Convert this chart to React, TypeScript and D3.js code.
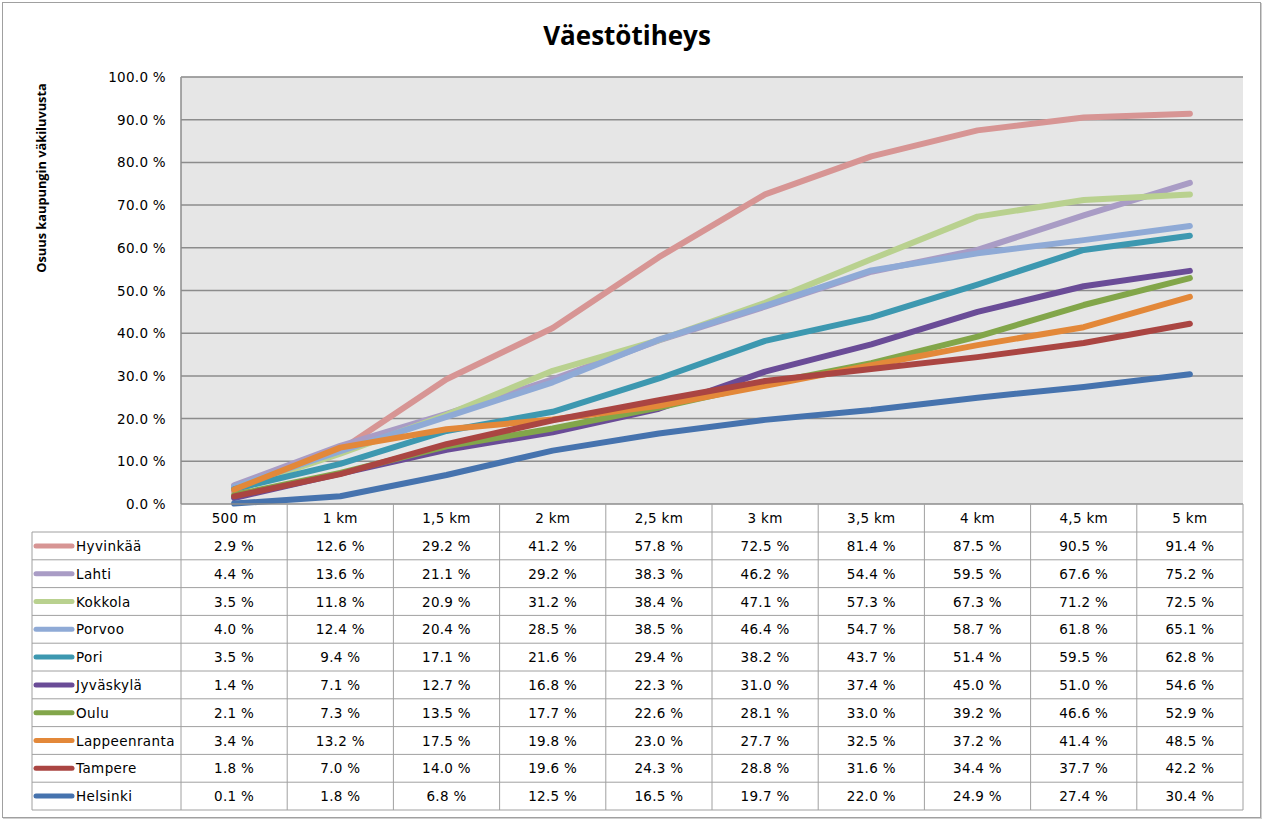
import React, { useEffect } from "react";
import * as d3 from "d3";

const categories = ["500 m", "1 km", "1,5 km", "2 km", "2,5 km", "3 km", "3,5 km", "4 km", "4,5 km", "5 km"];
const cities = ["Hyvinkää", "Lahti", "Kokkola", "Porvoo", "Pori", "Jyväskylä", "Oulu", "Lappeenranta", "Tampere", "Helsinki"];
const colors = ["#D79594", "#A99CC5", "#B9D18F", "#8FAAD6", "#3D98B0", "#6A4C97", "#82A64A", "#E38839", "#AA4542", "#4673AE"];
const hyvinkaa = [2.9, 12.6, 29.2, 41.2, 57.8, 72.5, 81.4, 87.5, 90.5, 91.4];
const lahti = [4.4, 13.6, 21.1, 29.2, 38.3, 46.2, 54.4, 59.5, 67.6, 75.2];
const kokkola = [3.5, 11.8, 20.9, 31.2, 38.4, 47.1, 57.3, 67.3, 71.2, 72.5];
const porvoo = [4.0, 12.4, 20.4, 28.5, 38.5, 46.4, 54.7, 58.7, 61.8, 65.1];
const pori = [3.5, 9.4, 17.1, 21.6, 29.4, 38.2, 43.7, 51.4, 59.5, 62.8];
const jyvaskyla = [1.4, 7.1, 12.7, 16.8, 22.3, 31.0, 37.4, 45.0, 51.0, 54.6];
const oulu = [2.1, 7.3, 13.5, 17.7, 22.6, 28.1, 33.0, 39.2, 46.6, 52.9];
const lappeenranta = [3.4, 13.2, 17.5, 19.8, 23.0, 27.7, 32.5, 37.2, 41.4, 48.5];
const tampere = [1.8, 7.0, 14.0, 19.6, 24.3, 28.8, 31.6, 34.4, 37.7, 42.2];
const helsinki = [0.1, 1.8, 6.8, 12.5, 16.5, 19.7, 22.0, 24.9, 27.4, 30.4];
const seriesValues = [hyvinkaa, lahti, kokkola, porvoo, pori, jyvaskyla, oulu, lappeenranta, tampere, helsinki];
const yTicks = [0, 10, 20, 30, 40, 50, 60, 70, 80, 90, 100];

const W = 1264, H = 822;
const plotL = 181, plotR = 1243, plotT = 77, plotB = 504;
const legL = 32;
const headerH = 28;
const rowH = 27.8;
const FONT = "'DejaVu Sans', Verdana, sans-serif";
const FS = 13.5;

export default function App() {
  useEffect(() => {
    document.body.style.margin = "0";
  }, []);

  const x = d3.scaleBand<string>().domain(categories).range([plotL, plotR]);
  const y = d3.scaleLinear().domain([0, 100]).range([plotB, plotT]);
  const line = d3
    .line<number>()
    .x((_, i) => (x(categories[i]) as number) + x.bandwidth() / 2)
    .y((v) => y(v));

  const tableBottom = plotB + headerH + rowH * cities.length;
  const fmt = (v: number) => v.toFixed(1) + " %";

  return (
    <svg width={W} height={H} style={{ position: "absolute", left: 0, top: 0, display: "block" }}>
      <rect x={0} y={0} width={W} height={H} fill="#fff" />
      <rect x={3.5} y={3.5} width={1258} height={815} fill="none" stroke="#d0d0d0" strokeWidth={1} />
      <rect x={2.5} y={2.5} width={1258} height={815} fill="#fff" stroke="#a0a0a0" strokeWidth={1} />

      <text x={627} y={45} textAnchor="middle" fontFamily="'Open Sans', 'DejaVu Sans', sans-serif" fontWeight="bold" fontSize={26} fill="#000">
        Väestötiheys
      </text>

      <text
        transform={`translate(46,178) rotate(-90)`}
        textAnchor="middle"
        fontFamily="'Open Sans', 'DejaVu Sans', sans-serif"
        fontWeight="bold"
        fontSize={12.8}
        fill="#000"
      >
        Osuus kaupungin väkiluvusta
      </text>

      <rect x={plotL} y={plotT} width={plotR - plotL} height={plotB - plotT} fill="#E6E6E6" />
      {yTicks.map((t) => (
        <g key={t}>
          {t > 0 && (
            <line x1={plotL} x2={plotR} y1={y(t)} y2={y(t)} stroke="#8C8C8C" strokeWidth={1.5} />
          )}
          <text x={166} y={y(t) + 5} textAnchor="end" fontFamily={FONT} fontSize={FS} letterSpacing={0.3} fill="#000">
            {t.toFixed(1) + " %"}
          </text>
        </g>
      ))}
      <line x1={plotL} x2={plotL} y1={plotT} y2={plotB} stroke="#8C8C8C" strokeWidth={1.5} />
      <line x1={plotL} x2={plotR} y1={plotT} y2={plotT} stroke="#a0a0a0" strokeWidth={1} />

      {seriesValues.map((vals, i) => (
        <path
          key={cities[i]}
          d={line(vals) || ""}
          fill="none"
          stroke={colors[i]}
          strokeWidth={6}
          strokeLinecap="round"
          strokeLinejoin="round"
        />
      ))}

      <g>
        <line x1={plotL} x2={plotR} y1={plotB} y2={plotB} stroke="#8C8C8C" strokeWidth={1.5} />
        <line x1={legL} x2={plotR} y1={plotB + headerH} y2={plotB + headerH} stroke="#a0a0a0" strokeWidth={1} />
        {cities.map((_, i) => (
          <line
            key={"h" + i}
            x1={legL}
            x2={plotR}
            y1={plotB + headerH + rowH * (i + 1)}
            y2={plotB + headerH + rowH * (i + 1)}
            stroke="#a0a0a0"
            strokeWidth={1}
          />
        ))}
        <line x1={legL} x2={legL} y1={plotB + headerH} y2={tableBottom} stroke="#a0a0a0" strokeWidth={1} />
        {categories.map((c) => (
          <line
            key={"v" + c}
            x1={x(c) as number}
            x2={x(c) as number}
            y1={plotB}
            y2={tableBottom}
            stroke="#a0a0a0"
            strokeWidth={1}
          />
        ))}
        <line x1={plotR} x2={plotR} y1={plotB} y2={tableBottom} stroke="#a0a0a0" strokeWidth={1} />

        {categories.map((c) => (
          <text
            key={"c" + c}
            x={(x(c) as number) + x.bandwidth() / 2}
            y={plotB + headerH / 2 + 5}
            textAnchor="middle"
            fontFamily={FONT}
            fontSize={FS}
            letterSpacing={0.3}
            fill="#000"
          >
            {c}
          </text>
        ))}

        {cities.map((city, i) => {
          const cy = plotB + headerH + rowH * i + rowH / 2;
          return (
            <g key={"r" + city}>
              <line x1={36} x2={72} y1={cy} y2={cy} stroke={colors[i]} strokeWidth={5} strokeLinecap="round" />
              <text x={76} y={cy + 5} fontFamily={FONT} fontSize={FS} letterSpacing={0.4} fill="#000">
                {city}
              </text>
              {seriesValues[i].map((v, j) => (
                <text
                  key={j}
                  x={(x(categories[j]) as number) + x.bandwidth() / 2}
                  y={cy + 5}
                  textAnchor="middle"
                  fontFamily={FONT}
                  fontSize={FS}
                  letterSpacing={0.3}
                  fill="#000"
                >
                  {fmt(v)}
                </text>
              ))}
            </g>
          );
        })}
      </g>
    </svg>
  );
}
